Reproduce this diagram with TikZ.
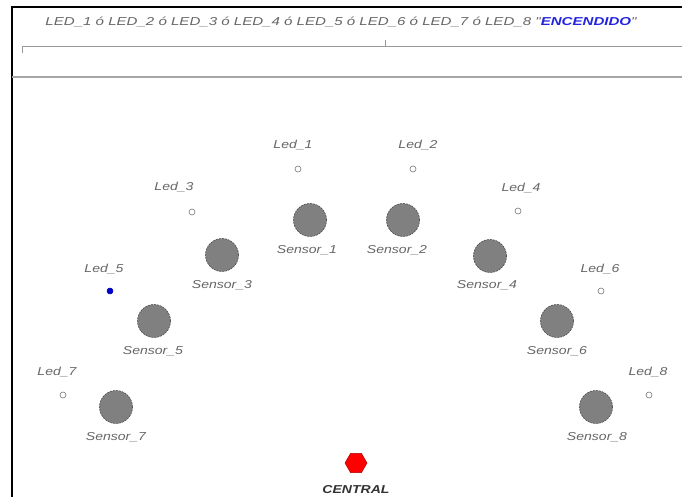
\documentclass[tikz,border=0pt]{standalone}
\usepackage{fontspec}
\usetikzlibrary{shapes.geometric}
\newfontfamily\labfont[FakeStretch=1.22]{Liberation Sans}
\newfontfamily\headfont[FakeStretch=1.31]{Liberation Sans}
\definecolor{txtgray}{HTML}{666666}
\definecolor{sensfill}{HTML}{808080}
\definecolor{sensline}{HTML}{4A4A4A}
\definecolor{ledline}{HTML}{777777}
\definecolor{encblue}{HTML}{2424E0}
\definecolor{hexred}{HTML}{FF0000}
\definecolor{hexline}{HTML}{B00000}
\begin{document}
\begin{tikzpicture}[x=1pt,y=-1pt,
  lbl/.style={font=\labfont\fontsize{11.5}{13}\selectfont\itshape, text=txtgray, inner sep=0pt},
  sensor/.style={circle, minimum size=33pt, inner sep=0pt, fill=sensfill, draw=sensline, line width=0.6pt, dash pattern=on 2pt off 1pt},
  led/.style={circle, minimum size=6pt, inner sep=0pt, fill=white, draw=ledline, line width=0.6pt},
  ledon/.style={circle, minimum size=6pt, inner sep=0pt, fill=blue!80!black, draw=blue!70!black, line width=0.5pt},
  frame/.style={black, line width=1.3pt},
  sep/.style={gray!70, line width=1.2pt}]
\useasboundingbox (0,0) rectangle (682,497);
\fill[white] (0,0) rectangle (682,497);
% frame
\draw[frame] (682,7) -- (12,7) -- (12,497);
\draw[sep] (12,77) -- (682,77);
% bracket
\coordinate (bl) at (22,53);
\coordinate (bt) at (22,46);
\coordinate (br) at (682,46);
\coordinate (mt) at (385,40);
\coordinate (mb) at (385,46);
\draw[gray!80, line width=0.6pt] (bl) -- (bt) -- (br);
\draw[gray!80, line width=0.6pt] (mt) -- (mb);
% header text
\node[lbl, font=\headfont\fontsize{11.5}{13}\selectfont\itshape] (cond) at (341,22) {LED\_1 ó LED\_2 ó LED\_3 ó LED\_4 ó LED\_5 ó LED\_6 ó LED\_7 ó LED\_8 "{\bfseries\color{encblue}ENCENDIDO}"};
% sensors
\node[sensor] (s1) at (310,220) {};
\node[sensor] (s2) at (403,220) {};
\node[sensor] (s3) at (222,255) {};
\node[sensor] (s4) at (490,256) {};
\node[sensor] (s5) at (154,321) {};
\node[sensor] (s6) at (557,321) {};
\node[sensor] (s7) at (116,407) {};
\node[sensor] (s8) at (596,407) {};
\node[lbl] (s1l) at (307,250) {Sensor\_1};
\node[lbl] (s2l) at (397,250) {Sensor\_2};
\node[lbl] (s3l) at (222,285) {Sensor\_3};
\node[lbl] (s4l) at (487,285) {Sensor\_4};
\node[lbl] (s5l) at (153,351) {Sensor\_5};
\node[lbl] (s6l) at (557,351) {Sensor\_6};
\node[lbl] (s7l) at (116,437) {Sensor\_7};
\node[lbl] (s8l) at (597,437) {Sensor\_8};
% leds
\node[led] (l1) at (298,169) {};
\node[led] (l2) at (413,169) {};
\node[led] (l3) at (192,212) {};
\node[led] (l4) at (518,211) {};
\node[ledon] (l5) at (110,291) {};
\node[led] (l6) at (601,291) {};
\node[led] (l7) at (63,395) {};
\node[led] (l8) at (649,395) {};
\node[lbl] (l1l) at (293,145) {Led\_1};
\node[lbl] (l2l) at (418,145) {Led\_2};
\node[lbl] (l3l) at (174,187) {Led\_3};
\node[lbl] (l4l) at (521,188) {Led\_4};
\node[lbl] (l5l) at (104,269) {Led\_5};
\node[lbl] (l6l) at (600,269) {Led\_6};
\node[lbl] (l7l) at (57,372) {Led\_7};
\node[lbl] (l8l) at (648,372) {Led\_8};
% central
\node[regular polygon, regular polygon sides=6, minimum size=22pt, inner sep=0pt, fill=hexred, draw=hexline, line width=0.5pt] (cen) at (356,463) {};
\node[lbl, text=black!80, font=\labfont\fontsize{11.5}{13}\selectfont\itshape\bfseries] (cenl) at (356,490) {CENTRAL};
\end{tikzpicture}
\end{document}
